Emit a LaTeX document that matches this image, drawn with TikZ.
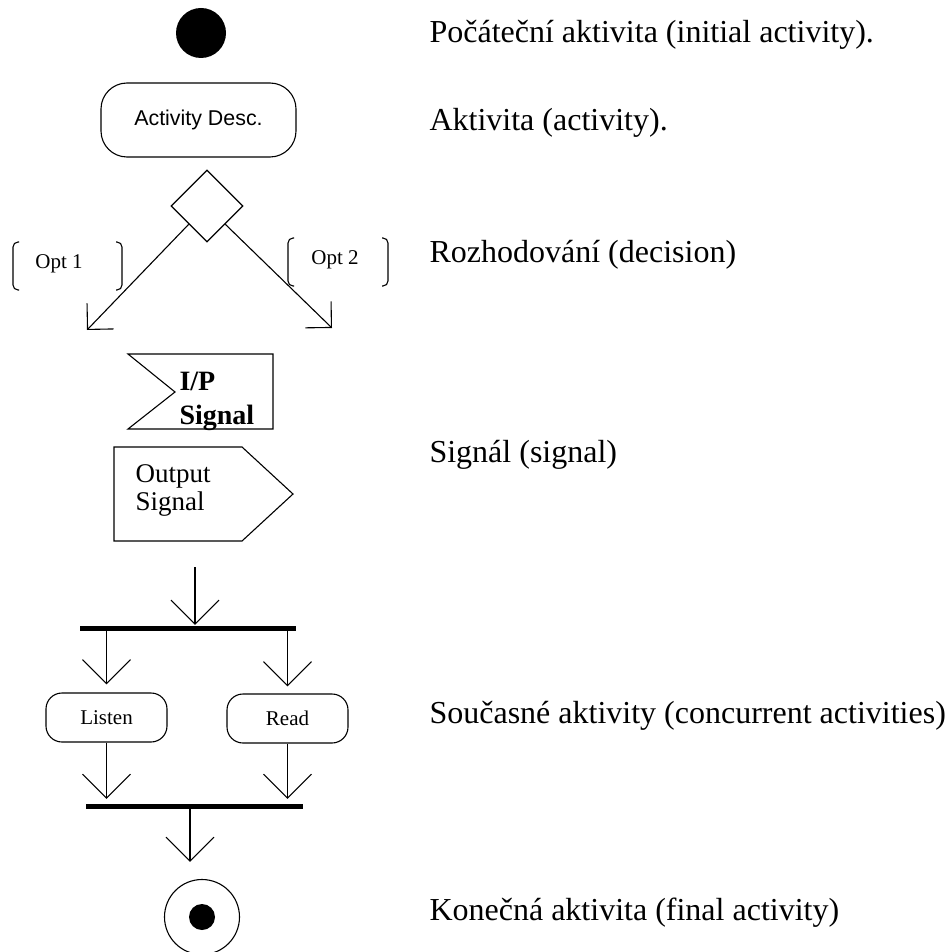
\documentclass[tikz,border=0pt]{standalone}
\usepackage{fontspec}
\setmainfont{Liberation Serif}
\newfontfamily\sansf{Liberation Sans}
\usetikzlibrary{arrows.meta,shapes.geometric}
\begin{document}
\begin{tikzpicture}[x=0.5pt,y=-0.5pt,line width=0.55pt,
  veebig/.style={-{Straight Barb[angle=90:17pt]}},
  veesmall/.style={-{Straight Barb[angle=90:13pt]}},
  initstyle/.style={circle,fill=black,minimum size=25pt,inner sep=0pt},
  actbig/.style={draw,rectangle,rounded corners=13pt,minimum width=97.5pt,minimum height=37pt,inner sep=0pt,font=\sansf\fontsize{10.7}{12}\selectfont},
  actsmall/.style={draw,rectangle,rounded corners=8pt,minimum width=60.5pt,minimum height=24.5pt,inner sep=0pt,font=\fontsize{10.5}{12}\selectfont},
  barstyle/.style={fill=black,inner sep=0pt,minimum height=2.5pt},
  optstyle/.style={inner sep=0pt,font=\fontsize{10.5}{12}\selectfont},
  sigtext/.style={inner sep=0pt,anchor=base west,font=\fontsize{13.5}{16}\selectfont},
  desc/.style={inner sep=0pt,anchor=base west,font=\fontsize{16}{19}\selectfont},
  bracket/.style={rounded corners=2.5pt}]
\useasboundingbox (0,0) rectangle (948,952);

% initial activity
\node[initstyle] (init) at (201,33) {};
% activity
\node[actbig] (act) at (198.5,120) {Activity Desc.};
% decision
\node[draw,diamond,shape aspect=1,minimum width=36pt,minimum height=36pt,inner sep=0pt] (dec) at (207,206) {};
\coordinate (o1tip) at (87,330);
\coordinate (o2tip) at (332,328);
\draw[veesmall] (dec.south west) -- (o1tip);
\draw[veesmall] (dec.south east) -- (o2tip);
\node[optstyle] (opt1) at (59,264) {Opt 1};
\node[optstyle] (opt2) at (335,260) {Opt 2};
\draw[bracket] (19,242) -- (13,242) -- (13,290) -- (19,290);
\draw[bracket] (116,242) -- (122,242) -- (122,290) -- (116,290);
\draw[bracket] (294,238) -- (288,238) -- (288,286) -- (294,286);
\draw[bracket] (382,238) -- (388,238) -- (388,286) -- (382,286);

% signals
\draw (128,354) -- (273,354) -- (273,429) -- (128,429) -- (175,392) -- cycle;
\node[sigtext,font=\bfseries\fontsize{14}{16}\selectfont] (ip1) at (179,390) {I/P};
\node[sigtext,font=\bfseries\fontsize{14}{16}\selectfont] (ip2) at (179,424) {Signal};
\draw (114,447) -- (242,447) -- (293,494) -- (242,541) -- (114,541) -- cycle;
\node[sigtext] (out1) at (135,482) {Output};
\node[sigtext] (out2) at (135,510) {Signal};

% concurrent activities
\node[barstyle,minimum width=108pt] (fork) at (188,628) {};
\coordinate (forkin) at (195,567);
\draw[veebig] (forkin) -- (forkin |- fork.north);
\node[actsmall] (listen) at (106.5,717.5) {Listen};
\node[actsmall] (read) at (287.5,718.5) {Read};
\draw[veebig,shorten >=4pt] (listen.north |- fork.south) -- (listen.north);
\draw[veebig,shorten >=3.5pt] (read.north |- fork.south) -- (read.north);
\node[barstyle,minimum width=108.5pt] (join) at (194.5,806) {};
\draw[veebig,shorten >=2pt] (listen.south) -- (listen.south |- join.north);
\draw[veebig,shorten >=2pt] (read.south) -- (read.south |- join.north);

% final activity
\node[circle,draw,minimum size=37.5pt,inner sep=0pt] (final) at (202,917) {};
\node[circle,fill=black,minimum size=13pt,inner sep=0pt] (finaldot) at (final.center) {};
\coordinate (joinout) at (190,806);
\draw[veebig,shorten >=8.5pt] (joinout) -- (joinout |- final.north);

% descriptions
\node[desc] (d1) at (429,43) {Počáteční aktivita (initial activity).};
\node[desc] (d2) at (429,131) {Aktivita (activity).};
\node[desc] (d3) at (429,263) {Rozhodování (decision)};
\node[desc] (d4) at (429,462) {Signál (signal)};
\node[desc] (d5) at (429,723) {Současné aktivity (concurrent activities)};
\node[desc] (d6) at (429,920) {Konečná aktivita (final activity)};
\end{tikzpicture}
\end{document}
